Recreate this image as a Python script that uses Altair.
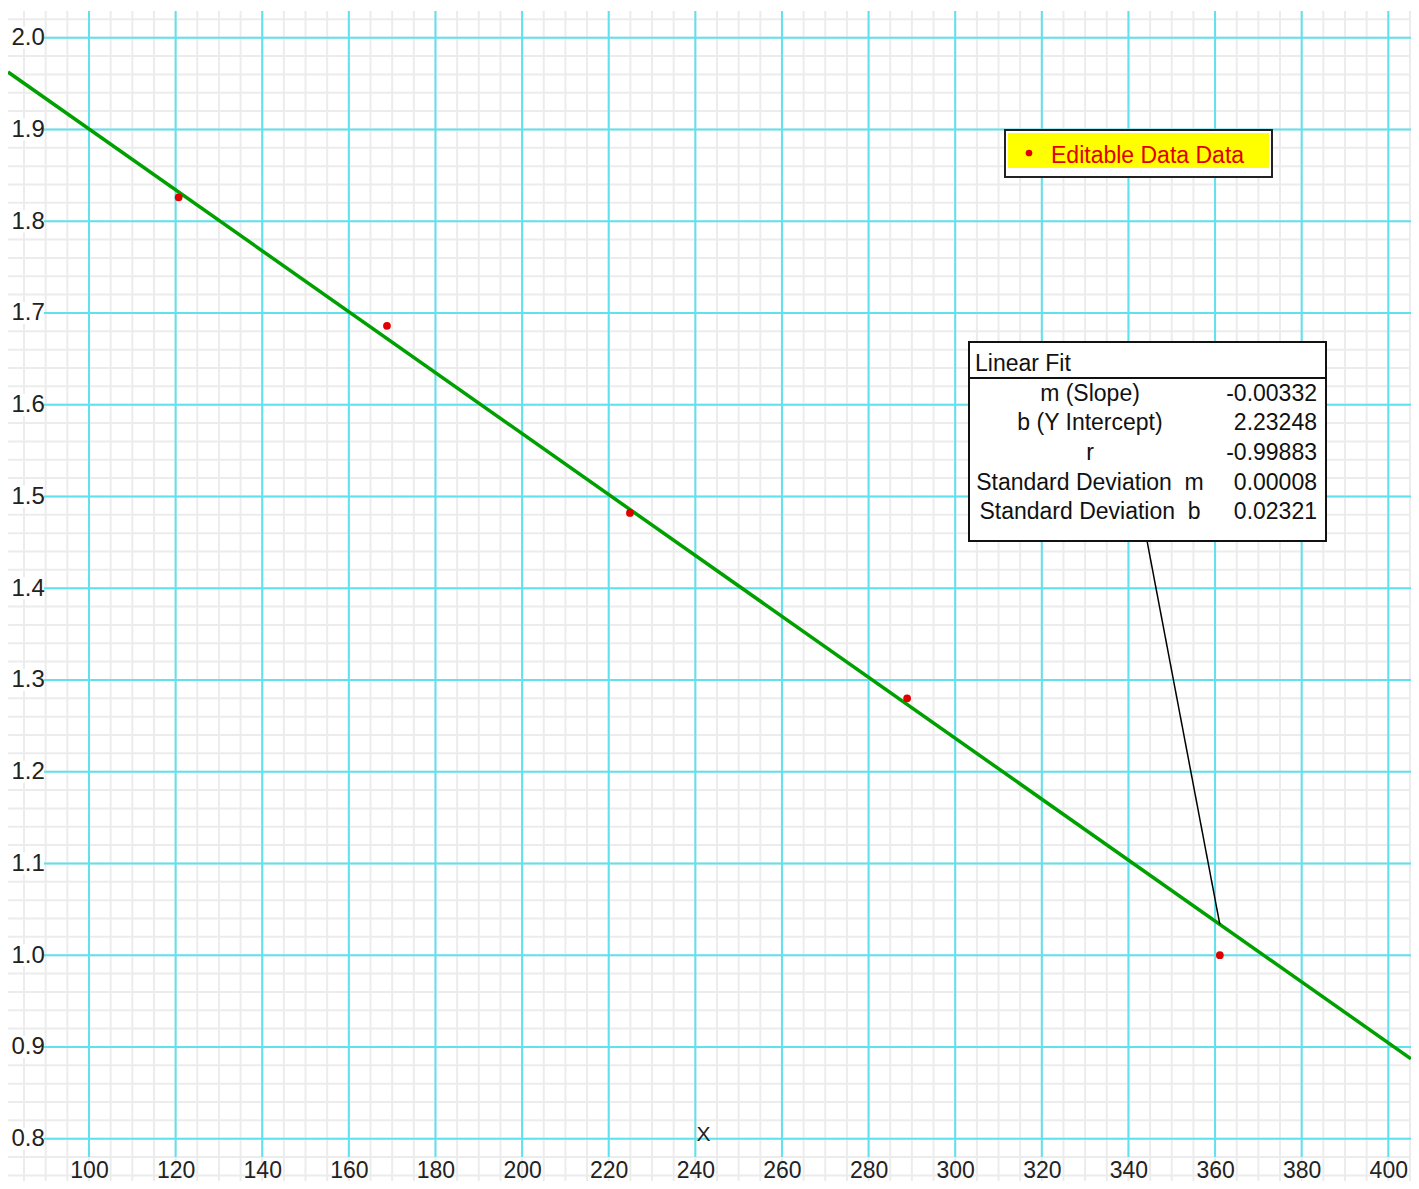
import altair as alt
import pandas as pd

# ---- data ----
x_points = [120.7, 168.8, 224.9, 288.9, 361.1]
y_points = [1.826, 1.686, 1.482, 1.280, 1.000]
fit_m = -0.00332
fit_b = 2.23248
fit_labels = ["m (Slope)", "b (Y Intercept)", "r", "Standard Deviation\u00a0 m", "Standard Deviation\u00a0 b"]
fit_values = ["-0.00332", "2.23248", "-0.99883", "0.00008", "0.02321"]
x_ticks = [100, 120, 140, 160, 180, 200, 220, 240, 260, 280, 300, 320, 340, 360, 380, 400]
y_ticks = [0.8, 0.9, 1.0, 1.1, 1.2, 1.3, 1.4, 1.5, 1.6, 1.7, 1.8, 1.9, 2.0]
legend_label = "Editable Data Data"

FONT = "Liberation Sans"
RED = "#e00000"
CYAN = "#5fe2ee"
MINOR = "#ececec"
GREEN = "#00a000"

X_DOMAIN = [81.3, 405.24]
Y_DOMAIN = [0.7539, 2.0291]
xs = alt.Scale(domain=X_DOMAIN, nice=False, zero=False)
ys = alt.Scale(domain=Y_DOMAIN, nice=False, zero=False)

xaxis = alt.Axis(values=x_ticks, title="X", grid=False, domain=False, ticks=False, tickSize=0,
                 labelPadding=-4, labelBaseline="alphabetic", labelFont=FONT, labelFontSize=23,
                 labelColor="#222222", labelFlush=False, labelOverlap=False,
                 titleFont=FONT, titleFontSize=21, titleFontWeight="normal", titleColor="#222222",
                 titleX=695, titleY=-47, titleBaseline="middle", zindex=1)
yaxis = alt.Axis(values=y_ticks, format=".1f", title=None, grid=False, domain=False, ticks=False,
                 tickSize=0, labelAlign="left", labelBaseline="middle", labelPadding=-3,
                 labelFont=FONT, labelFontSize=24, labelColor="#222222", labelFlush=False,
                 labelOverlap=False, zindex=1)


def X(f):
    return alt.X(f, type="quantitative", scale=xs, axis=xaxis)


def Y(f):
    return alt.Y(f, type="quantitative", scale=ys, axis=yaxis)


minor_x = pd.DataFrame({"x": [85 + 5 * i for i in range(65)]})
minor_y = pd.DataFrame({"y": [round(0.76 + 0.02 * i, 2) for i in range(64)]})
major_x = pd.DataFrame({"x": x_ticks})
major_y = pd.DataFrame({"y": y_ticks})
pts = pd.DataFrame({"x": x_points, "y": y_points})
fit_df = pd.DataFrame({"x": X_DOMAIN})
x_last = x_points[-1]
leader = pd.DataFrame({"x1": [344.3], "y1": [1.4514], "x2": [x_last], "y2": [fit_m * x_last + fit_b]})
ONE = pd.DataFrame({"k": [0]})

layers = []
layers.append(alt.Chart(minor_x).mark_rule(color=MINOR, strokeWidth=2).encode(x=X("x")))
layers.append(alt.Chart(minor_y).mark_rule(color=MINOR, strokeWidth=2).encode(y=Y("y")))
layers.append(alt.Chart(major_x).mark_rule(color=CYAN, strokeWidth=2).encode(
    x=X("x"), y=alt.value(0), y2=alt.value(1146)))
layers.append(alt.Chart(major_y).mark_rule(color=CYAN, strokeWidth=2).encode(y=Y("y")))
# white boxes behind the y labels
layers.append(alt.Chart(major_y).mark_tick(color="white", opacity=1, thickness=22, size=36,
                                          orient="horizontal").encode(x=alt.value(18), y=Y("y")))
# fit line
layers.append(alt.Chart(fit_df).transform_calculate(
    yfit=f"{fit_m} * datum.x + {fit_b}").mark_line(color=GREEN, strokeWidth=3.5).encode(
    x=X("x"), y=Y("yfit")))
# data points
layers.append(alt.Chart(pts).mark_circle(color=RED, opacity=1, size=60).encode(x=X("x"), y=Y("y")))
# leader line
layers.append(alt.Chart(leader).mark_rule(color="black", strokeWidth=1.5).encode(
    x=X("x1"), y=Y("y1"), x2="x2:Q", y2="y2:Q"))

# legend box
layers.append(alt.Chart(ONE).mark_rect(fill="white", stroke="#222222", strokeWidth=2).encode(
    x=alt.value(997), x2=alt.value(1264), y=alt.value(119), y2=alt.value(166)))
layers.append(alt.Chart(ONE).mark_rect(fill="#ffff00").encode(
    x=alt.value(1000), x2=alt.value(1261), y=alt.value(122), y2=alt.value(157)))
layers.append(alt.Chart(ONE).mark_circle(color=RED, opacity=1, size=45).encode(
    x=alt.value(1021), y=alt.value(142)))
layers.append(alt.Chart(ONE).mark_text(text=legend_label, align="left", baseline="alphabetic",
                                       font=FONT, fontSize=23, color=RED).encode(
    x=alt.value(1043), y=alt.value(152)))

# linear fit box
layers.append(alt.Chart(ONE).mark_rect(fill="white", stroke="#111111", strokeWidth=2).encode(
    x=alt.value(961), x2=alt.value(1318), y=alt.value(331), y2=alt.value(530)))
layers.append(alt.Chart(ONE).mark_rule(color="#111111", strokeWidth=2).encode(
    x=alt.value(961), x2=alt.value(1318), y=alt.value(367)))
layers.append(alt.Chart(ONE).mark_text(text="Linear Fit", align="left", baseline="alphabetic",
                                       font=FONT, fontSize=23, color="#111111").encode(
    x=alt.value(967), y=alt.value(360)))
row_base = [390, 419, 449, 479, 508]
for lab, val, yb in zip(fit_labels, fit_values, row_base):
    layers.append(alt.Chart(ONE).mark_text(text=lab, align="center", baseline="alphabetic",
                                           font=FONT, fontSize=23, color="#111111").encode(
        x=alt.value(1082), y=alt.value(yb)))
    layers.append(alt.Chart(ONE).mark_text(text=val, align="right", baseline="alphabetic",
                                           font=FONT, fontSize=23, color="#111111").encode(
        x=alt.value(1309), y=alt.value(yb)))

chart = alt.layer(*layers).properties(
    width=1403, height=1170,
    autosize=alt.AutoSizeParams(type="none"),
    padding={"left": 0, "top": 3, "right": 0, "bottom": 0},
    background="white",
).configure_view(strokeWidth=0)

chart.save("out.html", embed_options={"renderer": "svg", "actions": False})
